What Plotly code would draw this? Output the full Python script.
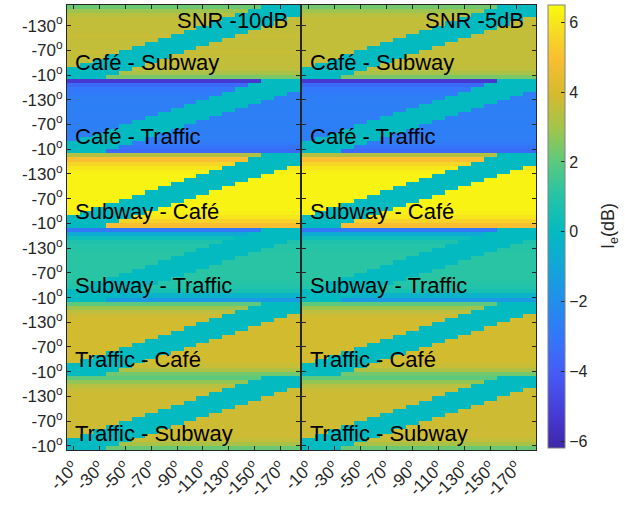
import plotly.graph_objects as go

# Azimuth grid (degrees) of the interference maps
X_ANGLES = [-10, -20, -30, -40, -50, -60, -70, -80, -90,
            -100, -110, -120, -130, -140, -150, -160, -170, -180]
# Row angles listed from the bottom row (-5) to the top row (-175)
Y_ANGLES = [-5, -15, -25, -35, -45, -55, -65, -75, -85,
            -95, -105, -115, -125, -135, -145, -155, -165, -175]

X_TICKS = [-10, -30, -50, -70, -90, -110, -130, -150, -170]
Y_TICKS = [-130, -70, -10]

# Columns occupied by the ~0 dB band in each row (bottom row first)
BAND_FIRST_COL = [0, 0, 0, 1, 2, 3, 4, 5, 6, 7, 8, 9, 10, 11, 12, 13, 14, 15]
BAND_LAST_COL = [2, 3, 4, 5, 6, 7, 8, 9, 10, 11, 12, 13, 14, 15, 16, 17, 17, 17]
BAND_DB = 0.0

PAIRS = ["Café - Subway", "Café - Traffic", "Subway - Café",
         "Subway - Traffic", "Traffic - Café", "Traffic - Subway"]

# Row levels (dB) outside the band, bottom row first — SNR -10 dB
CAFE_SUBWAY_M10 = [2.4, 3.1, 3.5, 3.6, 3.6, 3.6, 3.7, 3.6, 3.6, 3.6, 3.7, 3.6, 3.6, 3.6, 3.6, 3.4, 2.9, 2.2]
CAFE_TRAFFIC_M10 = [-3.5, -3.1, -2.8, -2.7, -2.7, -2.7, -2.6, -2.7, -2.7, -2.7, -2.6, -2.7, -2.7, -2.7, -2.8, -3.0, -3.5, -5.3]
SUBWAY_CAFE_M10 = [4.9, 5.5, 6.0, 6.2, 6.3, 6.3, 6.3, 6.3, 6.3, 6.3, 6.3, 6.3, 6.3, 6.2, 6.0, 5.6, 5.0, 3.3]
SUBWAY_TRAFFIC_M10 = [-1.5, -0.4, 0.6, 0.9, 1.0, 1.1, 1.1, 1.1, 1.1, 1.1, 1.1, 1.1, 1.0, 1.0, 0.8, 0.3, -0.8, -2.9]
TRAFFIC_CAFE_M10 = [2.3, 3.2, 3.7, 3.9, 3.9, 3.9, 3.9, 3.9, 3.9, 3.9, 3.9, 3.9, 3.9, 3.9, 3.8, 3.5, 2.9, 2.0]
TRAFFIC_SUBWAY_M10 = [2.2, 3.1, 3.6, 3.8, 3.8, 3.8, 3.8, 3.8, 3.8, 3.8, 3.8, 3.8, 3.8, 3.8, 3.7, 3.4, 2.8, 2.0]

# Row levels (dB) outside the band, bottom row first — SNR -5 dB
CAFE_SUBWAY_M5 = [2.4, 3.1, 3.5, 3.6, 3.6, 3.6, 3.6, 3.6, 3.6, 3.6, 3.6, 3.6, 3.6, 3.6, 3.6, 3.4, 2.9, 2.3]
CAFE_TRAFFIC_M5 = [-3.5, -3.1, -2.8, -2.7, -2.7, -2.7, -2.6, -2.7, -2.7, -2.7, -2.6, -2.7, -2.7, -2.7, -2.8, -3.0, -3.5, -5.3]
SUBWAY_CAFE_M5 = [4.9, 5.5, 6.0, 6.2, 6.3, 6.3, 6.3, 6.3, 6.3, 6.3, 6.3, 6.3, 6.3, 6.2, 6.0, 5.6, 5.0, 3.3]
SUBWAY_TRAFFIC_M5 = [-1.5, -0.4, 0.6, 0.9, 1.0, 1.1, 1.1, 1.1, 1.1, 1.1, 1.1, 1.1, 1.0, 1.0, 0.8, 0.3, -0.8, -2.9]
TRAFFIC_CAFE_M5 = [2.3, 3.2, 3.7, 3.9, 3.9, 3.9, 3.9, 3.9, 3.9, 3.9, 3.9, 3.9, 3.9, 3.9, 3.8, 3.5, 2.9, 2.0]
TRAFFIC_SUBWAY_M5 = [2.2, 3.1, 3.6, 3.8, 3.8, 3.8, 3.8, 3.8, 3.8, 3.8, 3.8, 3.8, 3.8, 3.8, 3.7, 3.4, 2.8, 2.0]

PANELS = [
    ("SNR -10dB", [CAFE_SUBWAY_M10, CAFE_TRAFFIC_M10, SUBWAY_CAFE_M10,
                   SUBWAY_TRAFFIC_M10, TRAFFIC_CAFE_M10, TRAFFIC_SUBWAY_M10]),
    ("SNR -5dB", [CAFE_SUBWAY_M5, CAFE_TRAFFIC_M5, SUBWAY_CAFE_M5,
                  SUBWAY_TRAFFIC_M5, TRAFFIC_CAFE_M5, TRAFFIC_SUBWAY_M5]),
]

Z_MIN, Z_MAX = -6.2, 6.5

PARULA = [
    [0.00, "rgb(62,38,168)"],
    [0.08, "rgb(71,60,215)"],
    [0.17, "rgb(70,92,246)"],
    [0.25, "rgb(52,118,250)"],
    [0.33, "rgb(33,142,236)"],
    [0.41, "rgb(18,166,216)"],
    [0.49, "rgb(4,186,192)"],
    [0.57, "rgb(38,196,166)"],
    [0.65, "rgb(95,201,123)"],
    [0.72, "rgb(160,196,76)"],
    [0.80, "rgb(214,186,46)"],
    [0.88, "rgb(250,190,50)"],
    [0.93, "rgb(246,214,38)"],
    [1.00, "rgb(249,251,14)"],
]

BLOCK_SPAN = 180  # each pair map covers 0 .. -180 degrees
FONT = "Liberation Sans, Arial, sans-serif"
AXIS_COLOR = "#262626"

W, H = 625, 506
PLOT_TOP, PLOT_BOTTOM = 5, 450
PANEL_X = [(67, 300), (301.5, 536)]


def stacked_y(block, angle):
    return block * BLOCK_SPAN + BLOCK_SPAN + angle


fig = go.Figure()
annotations = []

for p, (title, blocks) in enumerate(PANELS):
    xa = "x" if p == 0 else "x2"
    ya = "y" if p == 0 else "y2"
    z_rows, y_rows = [], []
    for b, levels in enumerate(blocks):
        # build rows from top (-175) down to bottom (-5) of the block
        for r in reversed(range(len(Y_ANGLES))):
            row = []
            for c in range(len(X_ANGLES)):
                if BAND_FIRST_COL[r] <= c <= BAND_LAST_COL[r]:
                    row.append(BAND_DB)
                else:
                    row.append(levels[r])
            z_rows.append(row)
            y_rows.append(stacked_y(b, Y_ANGLES[r]))
        annotations.append(dict(
            x=-10, y=stacked_y(b, -40), xref=xa, yref=ya, text=PAIRS[b],
            showarrow=False, xanchor="left", yanchor="middle",
            font=dict(family=FONT, size=22, color="black")))
    annotations.append(dict(
        x=-177, y=stacked_y(0, -143), xref=xa, yref=ya, text=title,
        showarrow=False, xanchor="right", yanchor="middle",
        font=dict(family=FONT, size=22, color="black")))

    fig.add_trace(go.Heatmap(
        x=X_ANGLES, y=y_rows, z=z_rows, xaxis=xa, yaxis=ya,
        zmin=Z_MIN, zmax=Z_MAX, colorscale=PARULA, zsmooth=False,
        showscale=(p == 0),
        colorbar=dict(
            x=548 / W, xanchor="left", xref="paper", xpad=0, ypad=0,
            y=1 - PLOT_TOP / H, yanchor="top",
            len=(PLOT_BOTTOM - PLOT_TOP - 2) / H, lenmode="fraction",
            thickness=17, thicknessmode="pixels",
            outlinewidth=1, outlinecolor="#808080",
            tickvals=[-6, -4, -2, 0, 2, 4, 6],
            ticks="inside", ticklen=4, tickcolor=AXIS_COLOR,
            tickfont=dict(family=FONT, size=16, color=AXIS_COLOR),
        ),
        hovertemplate="%{x}°, %{z:.1f} dB<extra></extra>",
    ))

# colour bar label
annotations.append(dict(
    x=609 / W, y=1 - 226 / H, xref="paper", yref="paper",
    text="I<sub>e</sub>(dB)", textangle=-90, showarrow=False,
    xanchor="center", yanchor="middle",
    font=dict(family=FONT, size=18, color=AXIS_COLOR)))

y_tickvals, y_ticktext = [], []
for b in range(len(PAIRS)):
    for t in Y_TICKS:
        y_tickvals.append(stacked_y(b, t))
        y_ticktext.append(f"{t}<sup>o</sup>")

x_ticktext = [f"{t}<sup>o</sup>" for t in X_TICKS]

common_x = dict(range=[-5, -185], tickvals=X_TICKS, ticks="inside", ticklen=4,
                tickcolor=AXIS_COLOR, showline=True, linecolor=AXIS_COLOR,
                linewidth=1, mirror="allticks", showgrid=False, zeroline=False,
                tickangle=-45, automargin=False,
                tickfont=dict(family=FONT, size=17, color=AXIS_COLOR))
common_y = dict(range=[BLOCK_SPAN * len(PAIRS), 0], tickvals=y_tickvals,
                ticks="inside", ticklen=4, tickcolor=AXIS_COLOR, showline=True,
                linecolor=AXIS_COLOR, linewidth=1, mirror="allticks",
                showgrid=False, zeroline=False, automargin=False,
                domain=[1 - PLOT_BOTTOM / H, 1 - PLOT_TOP / H],
                tickfont=dict(family=FONT, size=17, color=AXIS_COLOR))

fig.update_layout(
    width=W, height=H,
    margin=dict(l=0, r=0, t=0, b=0),
    paper_bgcolor="white", plot_bgcolor="white",
    xaxis=dict(common_x, domain=[PANEL_X[0][0] / W, PANEL_X[0][1] / W],
               ticktext=x_ticktext, anchor="y"),
    xaxis2=dict(common_x, domain=[PANEL_X[1][0] / W, PANEL_X[1][1] / W],
                ticktext=x_ticktext, anchor="y2"),
    yaxis=dict(common_y, ticktext=y_ticktext, anchor="x"),
    yaxis2=dict(common_y, ticktext=y_ticktext, showticklabels=False, anchor="x2"),
    annotations=annotations,
    showlegend=False,
)

fig.write_html("out.html")
